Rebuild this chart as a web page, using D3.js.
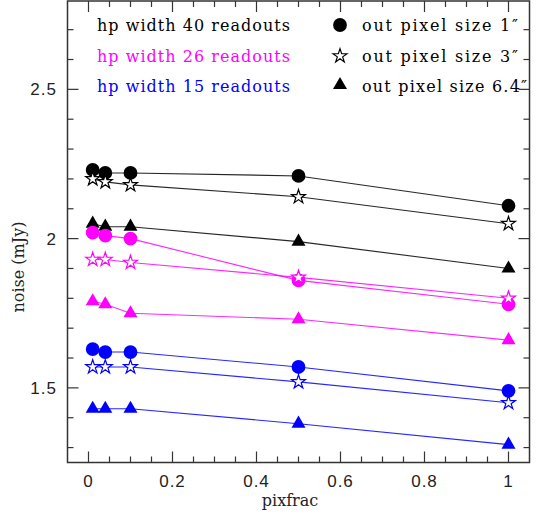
<!DOCTYPE html>
<html>
<head>
<meta charset="utf-8">
<script src="https://cdn.jsdelivr.net/npm/d3@7"></script>
<style>
  body { margin: 0; background: #fff; }
  svg { display: block; }
</style>
</head>
<body>
<svg id="chart" width="538" height="518"></svg>
<script>
// ---- data ----
const pixfrac = [0.01, 0.04, 0.1, 0.5, 1];
const hp40_1 = [2.23, 2.22, 2.22, 2.21, 2.11];
const hp40_3 = [2.20, 2.19, 2.18, 2.14, 2.05];
const hp40_64 = [2.05, 2.04, 2.04, 1.99, 1.90];
const hp26_1 = [2.02, 2.01, 2.00, 1.86, 1.78];
const hp26_3 = [1.93, 1.93, 1.92, 1.87, 1.80];
const hp26_64 = [1.79, 1.78, 1.75, 1.73, 1.66];
const hp15_1 = [1.63, 1.62, 1.62, 1.57, 1.49];
const hp15_3 = [1.57, 1.57, 1.57, 1.52, 1.45];
const hp15_64 = [1.43, 1.43, 1.43, 1.38, 1.31];
const xTicks = [0, 0.2, 0.4, 0.6, 0.8, 1];
const xTickLabels = ["0", "0.2", "0.4", "0.6", "0.8", "1"];
const yTicks = [1.5, 2, 2.5];
const yTickLabels = ["1.5", "2", "2.5"];
const colorLabels = ["hp width 40 readouts", "hp width 26 readouts", "hp width 15 readouts"];
const symbolLabels = ["out pixel size 1\u2033", "out pixel size 3\u2033", "out pixel size 6.4\u2033"];
const colors = ["#000000", "#ff00ff", "#0000ff"];

const series = [
  {v: hp40_1, c: 0, s: 0}, {v: hp40_3, c: 0, s: 1}, {v: hp40_64, c: 0, s: 2},
  {v: hp26_1, c: 1, s: 0}, {v: hp26_3, c: 1, s: 1}, {v: hp26_64, c: 1, s: 2},
  {v: hp15_1, c: 2, s: 0}, {v: hp15_3, c: 2, s: 1}, {v: hp15_64, c: 2, s: 2}
];

// ---- layout ----
const L = 67.5, R = 529.5, T = 1, B = 462.5;
const x = d3.scaleLinear().domain([-0.05, 1.05]).range([L, R]);
const y = d3.scaleLinear().domain([1.25, 2.796]).range([B, T]);

const svg = d3.select("#chart");
const axisColor = "#333";

// ticks on all sides
const gT = svg.append("g").attr("stroke", axisColor).attr("stroke-width", 1.2);
const xMinor = d3.range(0, 1.0001, 0.05);
xMinor.forEach(v => {
  const major = Math.abs(v * 5 - Math.round(v * 5)) < 1e-6;
  const len = major ? 11 : 6;
  gT.append("line").attr("x1", x(v)).attr("x2", x(v)).attr("y1", B).attr("y2", B - len);
  gT.append("line").attr("x1", x(v)).attr("x2", x(v)).attr("y1", T).attr("y2", T + len);
});
const yMinor = d3.range(1.3, 2.75, 0.1);
yMinor.forEach(v => {
  const major = Math.abs(v * 2 - Math.round(v * 2)) < 1e-6;
  const len = major ? 11 : 6;
  gT.append("line").attr("x1", L).attr("x2", L + len).attr("y1", y(v)).attr("y2", y(v));
  gT.append("line").attr("x1", R).attr("x2", R - len).attr("y1", y(v)).attr("y2", y(v));
});

// frame
svg.append("rect").attr("x", L).attr("y", T).attr("width", R - L).attr("height", B - T)
  .attr("fill", "none").attr("stroke", axisColor).attr("stroke-width", 1.5);

// tick labels
const tickFont = "'Liberation Sans', Arial, sans-serif";
svg.append("g").selectAll("text").data(xTicks).join("text")
  .attr("x", d => x(d)).attr("y", 487)
  .attr("text-anchor", "middle")
  .attr("font-family", tickFont).attr("font-size", 17).attr("letter-spacing", 1)
  .attr("fill", "#222")
  .text((d, i) => xTickLabels[i]);
svg.append("g").selectAll("text").data(yTicks).join("text")
  .attr("x", 57).attr("y", d => y(d) + 6)
  .attr("text-anchor", "end")
  .attr("font-family", tickFont).attr("font-size", 17).attr("letter-spacing", 1)
  .attr("fill", "#222")
  .text((d, i) => yTickLabels[i]);

// axis titles
const serif = "'DejaVu Serif', serif";
svg.append("text").attr("x", 290).attr("y", 506).attr("text-anchor", "middle")
  .attr("font-family", serif).attr("font-size", 16).attr("fill", "#222").text("pixfrac");
svg.append("text").attr("transform", "translate(24,267) rotate(-90)").attr("text-anchor", "middle")
  .attr("font-family", serif).attr("font-size", 16).attr("fill", "#222").text("noise (mJy)");

// symbols
const symTypes = [d3.symbolCircle, d3.symbolStar, d3.symbolTriangle];
const symSizes = [150, 60, 85];
function drawSymbol(g, s, c, px, py) {
  const path = d3.symbol().type(symTypes[s]).size(symSizes[s])();
  const p = g.append("path").attr("d", path).attr("transform", `translate(${px},${py})`);
  if (s === 1) {
    p.attr("fill", "#fff").attr("stroke", colors[c]).attr("stroke-width", 1.2);
  } else {
    p.attr("fill", colors[c]);
  }
}

const line = d3.line().x((d, i) => x(pixfrac[i])).y(d => y(d));
const gL = svg.append("g");
series.forEach(sr => {
  gL.append("path").attr("d", line(sr.v)).attr("fill", "none")
    .attr("stroke", colors[sr.c]).attr("stroke-width", 1.1).attr("opacity", 0.85);
});
const gS = svg.append("g");
series.forEach(sr => {
  sr.v.forEach((v, i) => drawSymbol(gS, sr.s, sr.c, x(pixfrac[i]), y(v)));
});

// legend
const rowY = [25, 56, 86];
colorLabels.forEach((t, i) => {
  svg.append("text").attr("x", 97).attr("y", rowY[i] + 6)
    .attr("font-family", serif).attr("font-size", 16).attr("fill", colors[i])
    .attr("textLength", 193).attr("lengthAdjust", "spacing")
    .text(t);
});
const symW = [156, 156, 165];
symbolLabels.forEach((t, i) => {
  drawSymbol(svg, i, 0, 340, rowY[i] - (i === 2 ? 1 : 0));
  svg.append("text").attr("x", 362).attr("y", rowY[i] + 6)
    .attr("font-family", serif).attr("font-size", 16).attr("fill", "#000")
    .attr("textLength", symW[i]).attr("lengthAdjust", "spacing")
    .text(t);
});
</script>
</body>
</html>
